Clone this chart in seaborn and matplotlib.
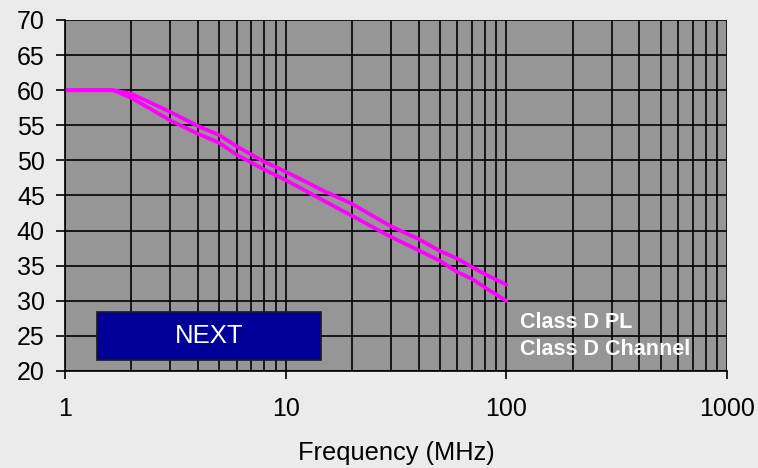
import pandas as pd
import matplotlib.pyplot as plt
import matplotlib.ticker as mticker
from matplotlib.patches import Rectangle
import seaborn as sns

# values (NEXT limits, dB)
freq_mhz = [1, 1.65, 2, 3, 4, 5, 6, 8, 10, 15, 20, 30, 40, 50, 60, 70, 80, 100]
class_d_pl = [60, 60, 59.5, 56.9, 54.9, 53.6, 52.0, 49.8, 48.4, 45.6, 43.8, 40.6, 38.8, 37.1, 36.0, 34.8, 33.8, 32.3]
class_d_channel = [60, 60, 58.9, 55.7, 53.8, 52.5, 50.8, 48.7, 47.2, 44.2, 42.1, 39.1, 37.2, 35.7, 34.1, 33.1, 31.9, 30.0]
series_names = ['Class D PL', 'Class D Channel']
x_ticks = [1, 10, 100, 1000]
y_ticks = list(range(20, 75, 5))

df = pd.DataFrame({'freq': freq_mhz * 2,
                   'next': class_d_pl + class_d_channel,
                   'series': [series_names[0]] * len(freq_mhz) + [series_names[1]] * len(freq_mhz)})

sns.set_style('white')
plt.rcParams['font.family'] = ['Liberation Sans', 'DejaVu Sans']

fig = plt.figure(figsize=(7.58, 4.68), dpi=100, facecolor='#EBEBEB')
ax = fig.add_axes([65 / 758, 1 - 371 / 468, 662 / 758, 351 / 468])
ax.set_facecolor('#969696')

sns.lineplot(data=df, x='freq', y='next', hue='series', palette=['#FF00FF', '#FF00FF'],
             linewidth=2.7, ax=ax, legend=True)

ax.set_xscale('log')
ax.set_xlim(1, 1000)
ax.set_ylim(20, 70)
ax.set_xticks(x_ticks)
ax.xaxis.set_major_formatter(mticker.FixedFormatter([str(t) for t in x_ticks]))
ax.xaxis.set_minor_locator(mticker.LogLocator(base=10, subs=range(2, 10)))
ax.xaxis.set_minor_formatter(mticker.NullFormatter())
ax.set_yticks(y_ticks)

ax.grid(True, which='both', color='black', linewidth=1.2)
ax.set_axisbelow(True)
for side in ['top', 'right']:
    ax.spines[side].set_visible(False)
for side in ['left', 'bottom']:
    ax.spines[side].set_color('black')
    ax.spines[side].set_linewidth(1.2)

ax.tick_params(axis='x', which='major', length=6, width=1.2, color='black', direction='out',
               labelsize=18, labelcolor='black', pad=13, bottom=True)
ax.tick_params(axis='x', which='minor', length=0)
ax.tick_params(axis='y', length=6.5, width=1.2, color='black', direction='out',
               labelsize=18, labelcolor='black', pad=8, left=True)

ax.set_xlabel('Frequency (MHz)', fontsize=18.3, color='black', labelpad=14)
ax.set_ylabel('')

# NEXT box
ax.add_patch(Rectangle((0.048, 0.031), 0.339, 0.138, transform=ax.transAxes,
                       facecolor='#000099', edgecolor='#1a1a1a', linewidth=1.2, zorder=5))
ax.text(0.2175, 0.100, 'NEXT', transform=ax.transAxes, color='white', fontsize=18.5,
        ha='center', va='center', zorder=6)

leg = ax.legend(loc='upper left', bbox_to_anchor=(0.688, 0.168), frameon=False,
                handlelength=0, handletextpad=0, labelspacing=0.3, borderpad=0,
                borderaxespad=0, prop={'weight': 'bold', 'size': 15.5})
for h in leg.legend_handles:
    h.set_visible(False)
for t in leg.get_texts():
    t.set_color('white')

fig.savefig('out.png', dpi=100, facecolor=fig.get_facecolor())
